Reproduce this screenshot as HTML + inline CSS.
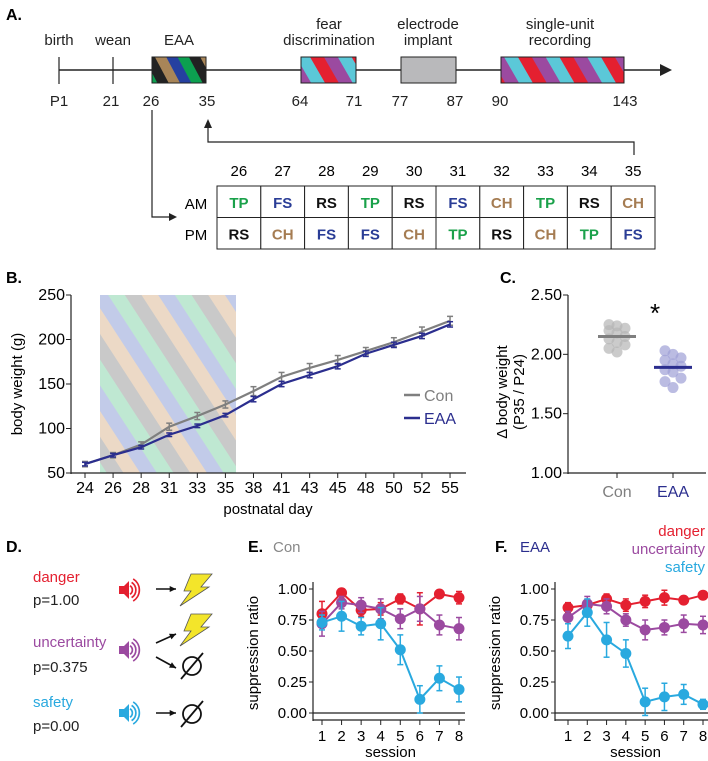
<!DOCTYPE html>
<html><head><meta charset="utf-8"><style>
body{margin:0;background:#fff}
svg{font-family:"Liberation Sans",sans-serif;display:block}
</style></head><body>
<svg id="fig" width="708" height="761" viewBox="0 0 708 761" xmlns="http://www.w3.org/2000/svg">
<defs>
<pattern id="pEAA" width="40" height="40" patternUnits="userSpaceOnUse" patternTransform="rotate(-28)">
<rect x="0" width="10" height="40" fill="#2540a0"/><rect x="10" width="10" height="40" fill="#0ca050"/><rect x="20" width="10" height="40" fill="#222"/><rect x="30" width="10" height="40" fill="#a88558"/></pattern>
<pattern id="pFear" width="36" height="36" patternUnits="userSpaceOnUse" patternTransform="rotate(-30)">
<rect x="0" width="12" height="36" fill="#9b4aa0"/><rect x="12" width="12" height="36" fill="#5bc8d8"/><rect x="24" width="12" height="36" fill="#e42030"/></pattern>
<pattern id="pShade" width="56" height="56" patternUnits="userSpaceOnUse" patternTransform="rotate(-33)">
<rect x="0" width="14" height="56" fill="#c9c9c9"/><rect x="14" width="14" height="56" fill="#ecd9c6"/><rect x="28" width="14" height="56" fill="#c2cbe9"/><rect x="42" width="14" height="56" fill="#bfe8d2"/></pattern>
</defs>

<!-- Panel A -->
<text x="6" y="20" font-size="16" font-weight="bold">A.</text>
<g font-size="15" text-anchor="middle" fill="#222">
<text x="59" y="45">birth</text>
<text x="113" y="45">wean</text>
<text x="179" y="45">EAA</text>
<text x="329" y="29">fear</text>
<text x="329" y="45">discrimination</text>
<text x="428" y="29">electrode</text>
<text x="428" y="45">implant</text>
<text x="560" y="29">single-unit</text>
<text x="560" y="45">recording</text>
</g>
<line x1="59" y1="70" x2="662" y2="70" stroke="#222" stroke-width="1.5"/>
<polygon points="660,64 672,70 660,76" fill="#222"/>
<line x1="59" y1="57" x2="59" y2="84" stroke="#222" stroke-width="1.2"/>
<line x1="113" y1="57" x2="113" y2="84" stroke="#222" stroke-width="1.2"/>
<rect x="152" y="57" width="54" height="26" fill="url(#pEAA)" stroke="#222"/>
<rect x="301" y="57" width="55" height="26" fill="url(#pFear)" stroke="#222"/>
<rect x="401" y="57" width="55" height="26" fill="#b9b9bb" stroke="#222"/>
<rect x="501" y="57" width="123" height="26" fill="url(#pFear)" stroke="#222"/>
<g font-size="15" text-anchor="middle" fill="#222">
<text x="59" y="106">P1</text><text x="111" y="106">21</text><text x="151" y="106">26</text><text x="207" y="106">35</text>
<text x="300" y="106">64</text><text x="354" y="106">71</text><text x="400" y="106">77</text><text x="455" y="106">87</text>
<text x="500" y="106">90</text><text x="625" y="106">143</text>
</g>
<polyline points="634,155 634,142 208,142 208,127" fill="none" stroke="#222" stroke-width="1.2"/>
<polygon points="204,128 208,119 212,128" fill="#222"/>
<polyline points="152,110 152,217 170,217" fill="none" stroke="#222" stroke-width="1.2"/>
<polygon points="169,213 177,217 169,221" fill="#222"/>
<g id="tbl"></g>

<!-- Panel B -->
<text x="6" y="283" font-size="16" font-weight="bold">B.</text>
<g id="chartB"></g>
<!-- Panel C -->
<text x="500" y="283" font-size="16" font-weight="bold">C.</text>
<g id="chartC"></g>

<!-- Panel D -->
<text x="6" y="552" font-size="16" font-weight="bold">D.</text>
<g font-size="15">
<text x="33" y="582" fill="#e42030">danger</text>
<text x="33" y="605" fill="#222">p=1.00</text>
<text x="33" y="647" fill="#9b4aa0">uncertainty</text>
<text x="33" y="672" fill="#222">p=0.375</text>
<text x="33" y="707" fill="#29a9df">safety</text>
<text x="33" y="731" fill="#222">p=0.00</text>
</g>
<g id="dIcons"></g>

<!-- Panels E/F -->
<text x="248" y="552" font-size="16" font-weight="bold">E.</text>
<text x="273" y="552" font-size="15" fill="#888">Con</text>
<text x="495" y="552" font-size="16" font-weight="bold">F.</text>
<text x="520" y="552" font-size="15" fill="#2b2e8e">EAA</text>
<g font-size="15" text-anchor="end">
<text x="705" y="536" fill="#e42030">danger</text>
<text x="705" y="554" fill="#9b4aa0">uncertainty</text>
<text x="705" y="572" fill="#29a9df">safety</text>
</g>
<g id="chartE"></g>
<g id="chartF"></g>
</svg>
<script>
const NS="http://www.w3.org/2000/svg";
function mk(p,t,a,txt){const e=document.createElementNS(NS,t);for(const k in a)e.setAttribute(k,a[k]);if(txt!==undefined)e.textContent=txt;p.appendChild(e);return e;}

// ---- Table data
const tblDays=[26,27,28,29,30,31,32,33,34,35];
const tblAM=["TP","FS","RS","TP","RS","FS","CH","TP","RS","CH"];
const tblPM=["RS","CH","FS","FS","CH","TP","RS","CH","TP","FS"];
const codeColor={TP:"#1aa14a",FS:"#2a3d96",RS:"#111",CH:"#a57c52"};
(function(){
 const g=document.getElementById('tbl');const x0=217,w=43.8,y0=186,h=31.5;
 mk(g,'text',{x:196,y:209,'font-size':15,'text-anchor':'middle'},'AM');
 mk(g,'text',{x:196,y:240,'font-size':15,'text-anchor':'middle'},'PM');
 tblDays.forEach((d,i)=>{
  const cx=x0+w*i+w/2;
  mk(g,'text',{x:cx,y:176,'font-size':15,'text-anchor':'middle'},d);
  [tblAM[i],tblPM[i]].forEach((c,r)=>{
   const cell=mk(g,'rect',{x:x0+w*i,y:y0+h*r,width:w,height:h,fill:'#fff',stroke:'#222','stroke-width':1});
   
   
   mk(g,'text',{x:cx,y:y0+h*r+22,'font-size':15,'font-weight':'bold','text-anchor':'middle',fill:codeColor[c]},c);
  });
 });
})();

// ---- Panel B data
const bDays=[24,26,28,31,33,35,38,41,43,45,48,50,52,55];
const bCon=[60,70,82,102,114,127,142,158,168,177,187,197,209,221];
const bConErr=[3,3,3,4,4,4,5,5,5,5,4,5,5,5];
const bEAA=[60,70,79,93,103,115,133,150,160,170,184,194,204,217];
const bEAAErr=[2,2,2,2,2,2,3,3,3,3,3,3,3,3];
const bTicks=[50,100,150,200,250];
(function(){
 const g=document.getElementById('chartB');
 const X=i=>85+i*28.08, Y=v=>473-(v-50)/200*178;
 const sh=mk(g,'rect',{x:100,y:295,width:136,height:178,fill:'url(#pShade)'});
 
 mk(g,'line',{x1:71,y1:295,x2:71,y2:474,stroke:'#222','stroke-width':1.2});
 mk(g,'line',{x1:71,y1:473,x2:466,y2:473,stroke:'#222','stroke-width':1.2});
 bTicks.forEach(t=>{mk(g,'line',{x1:66,y1:Y(t),x2:71,y2:Y(t),stroke:'#222'});
  mk(g,'text',{x:65,y:Y(t)+5,'font-size':16,'text-anchor':'end'},t);});
 bDays.forEach((d,i)=>{mk(g,'line',{x1:X(i),y1:473,x2:X(i),y2:478,stroke:'#222'});
  mk(g,'text',{x:X(i),y:493,'font-size':16,'text-anchor':'middle'},d);});
 mk(g,'text',{x:268,y:514,'font-size':15,'text-anchor':'middle'},'postnatal day');
 mk(g,'text',{x:0,y:0,'font-size':15,'text-anchor':'middle',transform:'translate(22,384) rotate(-90)'},'body weight (g)');
 [[bCon,bConErr,'#7f7f7f','con-line'],[bEAA,bEAAErr,'#2b2e8e','eaa-line']].forEach(([vals,err,col,nm])=>{
  vals.forEach((v,i)=>{mk(g,'line',{x1:X(i),y1:Y(v-err[i]),x2:X(i),y2:Y(v+err[i]),stroke:col,'stroke-width':1.5});
   mk(g,'line',{x1:X(i)-3,y1:Y(v+err[i]),x2:X(i)+3,y2:Y(v+err[i]),stroke:col,'stroke-width':1.5});
   mk(g,'line',{x1:X(i)-3,y1:Y(v-err[i]),x2:X(i)+3,y2:Y(v-err[i]),stroke:col,'stroke-width':1.5});});
  const p=mk(g,'polyline',{points:vals.map((v,i)=>X(i)+','+Y(v)).join(' '),fill:'none',stroke:col,'stroke-width':2.2});
  
 });
 mk(g,'line',{x1:404,y1:395,x2:420,y2:395,stroke:'#7f7f7f','stroke-width':2.5});
 mk(g,'text',{x:424,y:401,'font-size':16,fill:'#7f7f7f'},'Con');
 mk(g,'line',{x1:404,y1:418,x2:420,y2:418,stroke:'#2b2e8e','stroke-width':2.5});
 mk(g,'text',{x:424,y:424,'font-size':16,fill:'#2b2e8e'},'EAA');
})();

// ---- Panel C data
const cGroups=["Con","EAA"];
const cCon=[2.25,2.24,2.22,2.20,2.18,2.15,2.13,2.10,2.08,2.05,2.02];
const cEAA=[2.03,2.00,1.97,1.95,1.92,1.90,1.87,1.85,1.80,1.77,1.72];
const cMeans=[2.15,1.89];
const cTicks=[1.00,1.50,2.00,2.50];
(function(){
 const g=document.getElementById('chartC');
 const Y=v=>473-(v-1)/1.5*178, gx=[617,673];
 mk(g,'line',{x1:568,y1:295,x2:568,y2:474,stroke:'#222','stroke-width':1.2});
 mk(g,'line',{x1:568,y1:473,x2:706,y2:473,stroke:'#222','stroke-width':1.2});
 cTicks.forEach(t=>{mk(g,'line',{x1:563,y1:Y(t),x2:568,y2:Y(t),stroke:'#222'});
  mk(g,'text',{x:562,y:Y(t)+5,'font-size':16,'text-anchor':'end'},t.toFixed(2));});
 cGroups.forEach((n,i)=>{mk(g,'line',{x1:gx[i],y1:473,x2:gx[i],y2:478,stroke:'#222'});
  mk(g,'text',{x:gx[i],y:497,'font-size':16,'text-anchor':'middle',fill:i?'#2b2e8e':'#7f7f7f'},n);});
 mk(g,'text',{x:0,y:0,'font-size':15,'text-anchor':'middle',transform:'translate(507,392) rotate(-90)'},'Δ body weight');
 mk(g,'text',{x:0,y:0,'font-size':15,'text-anchor':'middle',transform:'translate(524,392) rotate(-90)'},'(P35 / P24)');
 [[cCon,'#b5b5b5'],[cEAA,'#9ea0d6']].forEach(([vals,col],gi)=>{
  vals.forEach((v,j)=>{const off=[-8,0,8][j%3];
   const c=mk(g,'circle',{cx:gx[gi]+off,cy:Y(v),r:5.5,fill:col,'fill-opacity':0.7});
   });
  mk(g,'line',{x1:gx[gi]-19,y1:Y(cMeans[gi]),x2:gx[gi]+19,y2:Y(cMeans[gi]),stroke:gi?'#2b2e8e':'#7f7f7f','stroke-width':3});
 });
 mk(g,'text',{x:655,y:322,'font-size':26,'text-anchor':'middle'},'*');
})();

// ---- Panel D icons
(function(){
 const g=document.getElementById('dIcons');
 function spk(x,y,col){mk(g,'polygon',{points:`${x},${y-4} ${x+5},${y-4} ${x+10},${y-9} ${x+10},${y+9} ${x+5},${y+4} ${x},${y+4}`,fill:col});
  [5,9,13].forEach(r=>mk(g,'path',{d:`M${x+9+r*0.4},${y-r*0.85} A${r},${r} 0 0 1 ${x+9+r*0.4},${y+r*0.85}`,fill:'none',stroke:col,'stroke-width':1.7}));}
 function arr(x1,y1,x2,y2){mk(g,'line',{x1,y1,x2,y2,stroke:'#111','stroke-width':1.6});
  const a=Math.atan2(y2-y1,x2-x1),s=7;mk(g,'polygon',{points:`${x2},${y2} ${x2-s*Math.cos(a-0.45)},${y2-s*Math.sin(a-0.45)} ${x2-s*Math.cos(a+0.45)},${y2-s*Math.sin(a+0.45)}`,fill:'#111'});}
 function bolt(x,y){mk(g,'polygon',{points:`${x+11},${y} ${x+32},${y} ${x+21},${y+13} ${x+29},${y+13} ${x},${y+32} ${x+11},${y+17} ${x+4},${y+17}`,fill:'#f3e52a',stroke:'#555','stroke-width':0.8});}
 function empty(x,y){mk(g,'circle',{cx:x,cy:y,r:9,fill:'none',stroke:'#111','stroke-width':1.8});mk(g,'line',{x1:x-11,y1:y+13,x2:x+11,y2:y-13,stroke:'#111','stroke-width':1.8});}
 spk(119,590,'#e42030');arr(156,589,176,589);bolt(180,574);
 spk(119,650,'#9b4aa0');arr(156,643,176,634);bolt(180,614);arr(156,657,176,668);empty(192,666);
 spk(119,713,'#29a9df');arr(156,713,176,713);empty(192,714);
})();

// ---- Panels E/F data
const sessions=[1,2,3,4,5,6,7,8];
const srTicks=[0,0.25,0.5,0.75,1.0];
const eDanger=[0.80,0.97,0.83,0.84,0.92,0.84,0.96,0.93];
const eDangerErr=[0.10,0.03,0.05,0.05,0.04,0.13,0.03,0.05];
const eUnc=[0.72,0.89,0.87,0.84,0.76,0.84,0.71,0.68];
const eUncErr=[0.10,0.05,0.06,0.08,0.08,0.10,0.08,0.09];
const eSafe=[0.73,0.78,0.70,0.72,0.51,0.11,0.28,0.19];
const eSafeErr=[0.06,0.12,0.07,0.13,0.12,0.11,0.10,0.10];
const fDanger=[0.85,0.87,0.92,0.87,0.90,0.93,0.91,0.95];
const fDangerErr=[0.04,0.04,0.04,0.05,0.05,0.06,0.03,0.03];
const fUnc=[0.77,0.88,0.86,0.75,0.67,0.69,0.72,0.71];
const fUncErr=[0.05,0.06,0.06,0.05,0.08,0.06,0.07,0.07];
const fSafe=[0.62,0.81,0.59,0.48,0.09,0.13,0.15,0.07];
const fSafeErr=[0.10,0.11,0.14,0.11,0.11,0.11,0.08,0.04];
function suppChart(id,ax,x1,x8,series){
 const g=document.getElementById(id);
 const X=s=>x1+(s-1)*(x8-x1)/7, Y=v=>713-v*124, right=x8+6;
 mk(g,'line',{x1:ax,y1:582,x2:ax,y2:721,stroke:'#222','stroke-width':1.2});
 mk(g,'line',{x1:ax,y1:720,x2:right,y2:720,stroke:'#222','stroke-width':1.2});
 mk(g,'line',{x1:ax,y1:713,x2:right,y2:713,stroke:'#222','stroke-width':1.2});
 srTicks.forEach(t=>{mk(g,'line',{x1:ax-4,y1:Y(t),x2:ax,y2:Y(t),stroke:'#222'});
  mk(g,'text',{x:ax-6,y:Y(t)+5,'font-size':15,'text-anchor':'end'},t.toFixed(2));});
 sessions.forEach(s=>{mk(g,'line',{x1:X(s),y1:720,x2:X(s),y2:725,stroke:'#222'});
  mk(g,'text',{x:X(s),y:741,'font-size':15,'text-anchor':'middle'},s);});
 mk(g,'text',{x:(x1+x8)/2,y:757,'font-size':15,'text-anchor':'middle'},'session');
 mk(g,'text',{x:0,y:0,'font-size':15,'text-anchor':'middle',transform:`translate(${ax-55},653) rotate(-90)`},'suppression ratio');
 series.forEach(([vals,err,col,nm])=>{
  vals.forEach((v,i)=>{const x=X(sessions[i]);
   mk(g,'line',{x1:x,y1:Y(v-err[i]),x2:x,y2:Y(v+err[i]),stroke:col,'stroke-width':1.5});
   mk(g,'line',{x1:x-3,y1:Y(v+err[i]),x2:x+3,y2:Y(v+err[i]),stroke:col,'stroke-width':1.5});
   mk(g,'line',{x1:x-3,y1:Y(v-err[i]),x2:x+3,y2:Y(v-err[i]),stroke:col,'stroke-width':1.5});});
  const p=mk(g,'polyline',{points:vals.map((v,i)=>X(sessions[i])+','+Y(v)).join(' '),fill:'none',stroke:col,'stroke-width':2});
  
  vals.forEach((v,i)=>{const c=mk(g,'circle',{cx:X(sessions[i]),cy:Y(v),r:5.5,fill:col});
   });
 });
}
suppChart('chartE',313,322,459,[[eDanger,eDangerErr,'#e42030','danger-line'],[eUnc,eUncErr,'#9b4aa0','uncertainty-line'],[eSafe,eSafeErr,'#29a9df','safety-line']]);
suppChart('chartF',555,568,703,[[fDanger,fDangerErr,'#e42030','danger-line'],[fUnc,fUncErr,'#9b4aa0','uncertainty-line'],[fSafe,fSafeErr,'#29a9df','safety-line']]);
</script>
</body></html>
